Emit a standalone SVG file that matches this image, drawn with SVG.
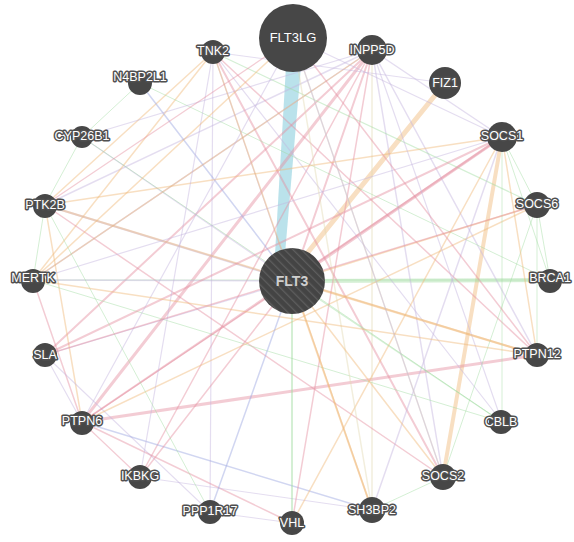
<svg xmlns="http://www.w3.org/2000/svg" width="574" height="542" viewBox="0 0 574 542">
<style>
.e{fill:none;stroke-linecap:round;stroke-opacity:0.45}
.pk{stroke:#e58f9f}
.or{stroke:#f0b777}
.lv{stroke:#c3b3de}
.gr{stroke:#9fdb9f}
.bl{stroke:#9aa5e0}
.bg{stroke:#e3d9b3}
.n{fill:#474747}
.t{font-family:"Liberation Sans",Arial,sans-serif;font-size:12.5px;fill:#ffffff;stroke:#505050;stroke-width:3px;paint-order:stroke;stroke-linejoin:round;text-anchor:middle}
</style>
<defs>
<pattern id="hatch" patternUnits="userSpaceOnUse" width="6" height="6" patternTransform="rotate(-45)">
<rect width="6" height="6" fill="#444"/>
<line x1="0" y1="0" x2="0" y2="6" stroke="#5e5e5e" stroke-width="2.5"/>
</pattern>
</defs>
<rect width="574" height="542" fill="#ffffff"/>
<g id="edges">
<polygon points="286,66 301,66 285,254 275,254" fill="#a9dbe6" fill-opacity="0.8"/>
<line class="e or" x1="445" y1="83" x2="300" y2="262" stroke-width="5"/>
<line class="e or" x1="502" y1="137" x2="443" y2="477" stroke-width="4"/>
<line class="e pk" x1="502" y1="137" x2="292" y2="281" stroke-width="3"/>
<line class="e gr" x1="292" y1="281" x2="550" y2="280" stroke-width="4"/>
<line class="e pk" x1="82" y1="422" x2="537" y2="355" stroke-width="3"/>
<line class="e pk" x1="372" y1="50" x2="82" y2="422" stroke-width="3"/>
<line class="e pk" x1="372" y1="50" x2="292" y2="281" stroke-width="2"/>
<line class="e pk" x1="372" y1="50" x2="45" y2="355" stroke-width="2"/>
<line class="e lv" x1="372" y1="50" x2="33" y2="280" stroke-width="1.5"/>
<line class="e lv" x1="372" y1="50" x2="45" y2="205" stroke-width="1.5"/>
<line class="e lv" x1="372" y1="50" x2="443" y2="477" stroke-width="1.5"/>
<line class="e lv" x1="372" y1="50" x2="502" y2="137" stroke-width="1.5"/>
<line class="e bg" x1="372" y1="50" x2="372" y2="510" stroke-width="1.5"/>
<line class="e pk" x1="372" y1="50" x2="140" y2="477" stroke-width="1.5"/>
<line class="e lv" x1="372" y1="50" x2="537" y2="355" stroke-width="1.5"/>
<line class="e pk" x1="213" y1="52" x2="443" y2="477" stroke-width="2"/>
<line class="e pk" x1="213" y1="52" x2="537" y2="355" stroke-width="1.5"/>
<line class="e lv" x1="213" y1="52" x2="210" y2="512" stroke-width="1.2"/>
<line class="e or" x1="213" y1="52" x2="45" y2="205" stroke-width="1.5"/>
<line class="e or" x1="213" y1="52" x2="33" y2="280" stroke-width="1.5"/>
<line class="e lv" x1="213" y1="52" x2="292" y2="281" stroke-width="1.2"/>
<line class="e lv" x1="213" y1="52" x2="502" y2="422" stroke-width="1.2"/>
<line class="e gr" x1="213" y1="52" x2="537" y2="205" stroke-width="1.2"/>
<line class="e bl" x1="140" y1="83" x2="292" y2="281" stroke-width="1.5"/>
<line class="e gr" x1="140" y1="83" x2="82" y2="137" stroke-width="1"/>
<line class="e gr" x1="140" y1="83" x2="550" y2="280" stroke-width="1"/>
<line class="e gr" x1="82" y1="137" x2="45" y2="205" stroke-width="1"/>
<line class="e lv" x1="82" y1="137" x2="292" y2="281" stroke-width="1.2"/>
<line class="e lv" x1="82" y1="137" x2="372" y2="50" stroke-width="1.2"/>
<line class="e gr" x1="82" y1="137" x2="502" y2="422" stroke-width="1"/>
<line class="e lv" x1="45" y1="205" x2="292" y2="281" stroke-width="2"/>
<line class="e or" x1="45" y1="205" x2="502" y2="137" stroke-width="1.5"/>
<line class="e or" x1="45" y1="205" x2="537" y2="355" stroke-width="2"/>
<line class="e pk" x1="45" y1="205" x2="443" y2="477" stroke-width="1.5"/>
<line class="e gr" x1="45" y1="205" x2="33" y2="280" stroke-width="1"/>
<line class="e or" x1="45" y1="205" x2="82" y2="422" stroke-width="1.5"/>
<line class="e gr" x1="33" y1="280" x2="550" y2="280" stroke-width="1.2"/>
<line class="e lv" x1="33" y1="280" x2="292" y2="281" stroke-width="1.5"/>
<line class="e lv" x1="33" y1="280" x2="502" y2="137" stroke-width="1.2"/>
<line class="e pk" x1="33" y1="280" x2="82" y2="422" stroke-width="1.5"/>
<line class="e gr" x1="33" y1="280" x2="502" y2="422" stroke-width="1"/>
<line class="e or" x1="33" y1="280" x2="372" y2="50" stroke-width="1.5"/>
<line class="e pk" x1="45" y1="355" x2="502" y2="137" stroke-width="2"/>
<line class="e lv" x1="45" y1="355" x2="292" y2="281" stroke-width="1.2"/>
<line class="e lv" x1="45" y1="355" x2="82" y2="422" stroke-width="1.2"/>
<line class="e lv" x1="45" y1="355" x2="210" y2="512" stroke-width="1.2"/>
<line class="e pk" x1="82" y1="422" x2="292" y2="281" stroke-width="1.5"/>
<line class="e pk" x1="82" y1="422" x2="502" y2="137" stroke-width="2"/>
<line class="e bl" x1="82" y1="422" x2="372" y2="510" stroke-width="1.5"/>
<line class="e pk" x1="82" y1="422" x2="292" y2="523" stroke-width="1.5"/>
<line class="e pk" x1="82" y1="422" x2="140" y2="477" stroke-width="1.2"/>
<line class="e or" x1="82" y1="422" x2="537" y2="205" stroke-width="1.5"/>
<line class="e lv" x1="82" y1="422" x2="293" y2="38" stroke-width="1.2"/>
<line class="e pk" x1="140" y1="477" x2="292" y2="281" stroke-width="1.5"/>
<line class="e lv" x1="140" y1="477" x2="213" y2="52" stroke-width="1.2"/>
<line class="e lv" x1="140" y1="477" x2="372" y2="510" stroke-width="1"/>
<line class="e bl" x1="210" y1="512" x2="292" y2="281" stroke-width="1.5"/>
<line class="e lv" x1="210" y1="512" x2="292" y2="523" stroke-width="1"/>
<line class="e gr" x1="210" y1="512" x2="45" y2="205" stroke-width="1"/>
<line class="e gr" x1="292" y1="523" x2="292" y2="281" stroke-width="2"/>
<line class="e or" x1="292" y1="523" x2="502" y2="137" stroke-width="1.5"/>
<line class="e pk" x1="292" y1="523" x2="372" y2="50" stroke-width="1.5"/>
<line class="e or" x1="372" y1="510" x2="292" y2="281" stroke-width="2"/>
<line class="e lv" x1="372" y1="510" x2="502" y2="137" stroke-width="1.5"/>
<line class="e gr" x1="372" y1="510" x2="443" y2="477" stroke-width="1"/>
<line class="e bg" x1="372" y1="510" x2="293" y2="38" stroke-width="1.5"/>
<line class="e or" x1="372" y1="510" x2="213" y2="52" stroke-width="1.5"/>
<line class="e or" x1="443" y1="477" x2="292" y2="281" stroke-width="1.5"/>
<line class="e gr" x1="443" y1="477" x2="537" y2="205" stroke-width="1"/>
<line class="e bg" x1="443" y1="477" x2="293" y2="38" stroke-width="1.5"/>
<line class="e gr" x1="502" y1="422" x2="292" y2="281" stroke-width="1.2"/>
<line class="e gr" x1="502" y1="422" x2="502" y2="137" stroke-width="1"/>
<line class="e lv" x1="502" y1="422" x2="372" y2="50" stroke-width="1.2"/>
<line class="e or" x1="537" y1="355" x2="292" y2="281" stroke-width="2"/>
<line class="e gr" x1="537" y1="355" x2="537" y2="205" stroke-width="1"/>
<line class="e or" x1="537" y1="355" x2="33" y2="280" stroke-width="1.5"/>
<line class="e pk" x1="537" y1="355" x2="293" y2="38" stroke-width="1.5"/>
<line class="e gr" x1="550" y1="280" x2="502" y2="137" stroke-width="1"/>
<line class="e gr" x1="550" y1="280" x2="537" y2="205" stroke-width="1"/>
<line class="e or" x1="537" y1="205" x2="292" y2="281" stroke-width="1.5"/>
<line class="e pk" x1="537" y1="205" x2="45" y2="355" stroke-width="1.5"/>
<line class="e gr" x1="537" y1="205" x2="502" y2="137" stroke-width="1"/>
<line class="e lv" x1="502" y1="137" x2="293" y2="38" stroke-width="1.2"/>
<line class="e or" x1="502" y1="137" x2="537" y2="355" stroke-width="1.5"/>
<line class="e lv" x1="445" y1="83" x2="213" y2="52" stroke-width="1"/>
<line class="e or" x1="293" y1="38" x2="33" y2="280" stroke-width="1.5"/>
<line class="e pk" x1="293" y1="38" x2="45" y2="205" stroke-width="1.2"/>
<line class="e lv" x1="293" y1="38" x2="443" y2="477" stroke-width="1.2"/>
</g>
<g id="FLT3LG"><circle class="n" cx="293" cy="38" r="34"/><text x="293" y="42" style="font-family:'Liberation Sans',Arial,sans-serif;font-size:13px;fill:#fff;text-anchor:middle">FLT3LG</text></g>
<g id="FLT3"><circle cx="292" cy="281" r="33" fill="url(#hatch)"/><text x="292" y="286" style="font-family:'Liberation Sans',Arial,sans-serif;font-size:14px;font-weight:bold;fill:#cfcfcf;text-anchor:middle">FLT3</text></g>
<g id="TNK2"><circle class="n" cx="213" cy="52" r="12"/><text class="t" x="213" y="55">TNK2</text></g>
<g id="INPP5D"><circle class="n" cx="372" cy="50" r="15"/><text class="t" x="372" y="54">INPP5D</text></g>
<g id="N4BP2L1"><circle class="n" cx="140" cy="83" r="12"/><text class="t" x="140" y="81">N4BP2L1</text></g>
<g id="CYP26B1"><circle class="n" cx="82" cy="137" r="11"/><text class="t" x="82" y="140">CYP26B1</text></g>
<g id="PTK2B"><circle class="n" cx="45" cy="206" r="12"/><text class="t" x="45" y="209">PTK2B</text></g>
<g id="FIZ1"><circle class="n" cx="445" cy="83" r="16"/><text class="t" x="445" y="87">FIZ1</text></g>
<g id="SOCS1"><circle class="n" cx="502" cy="137" r="15"/><text class="t" x="502" y="140">SOCS1</text></g>
<g id="SOCS6"><circle class="n" cx="537" cy="205" r="13"/><text class="t" x="537" y="208">SOCS6</text></g>
<g id="MERTK"><circle class="n" cx="33" cy="281" r="12"/><text class="t" x="33" y="282">MERTK</text></g>
<g id="BRCA1"><circle class="n" cx="550" cy="281" r="12"/><text class="t" x="550" y="282">BRCA1</text></g>
<g id="SLA"><circle class="n" cx="45" cy="355" r="12"/><text class="t" x="45" y="359">SLA</text></g>
<g id="PTPN12"><circle class="n" cx="537" cy="355" r="12"/><text class="t" x="537" y="358">PTPN12</text></g>
<g id="PTPN6"><circle class="n" cx="82" cy="423" r="12"/><text class="t" x="82" y="425">PTPN6</text></g>
<g id="CBLB"><circle class="n" cx="501" cy="422" r="12"/><text class="t" x="501" y="426">CBLB</text></g>
<g id="IKBKG"><circle class="n" cx="140" cy="477" r="12"/><text class="t" x="140" y="480">IKBKG</text></g>
<g id="SOCS2"><circle class="n" cx="443" cy="477" r="13"/><text class="t" x="443" y="480">SOCS2</text></g>
<g id="PPP1R17"><circle class="n" cx="210" cy="512" r="12"/><text class="t" x="210" y="515">PPP1R17</text></g>
<g id="SH3BP2"><circle class="n" cx="372" cy="510" r="13"/><text class="t" x="372" y="514">SH3BP2</text></g>
<g id="VHL"><circle class="n" cx="292" cy="523" r="12"/><text class="t" x="292" y="527">VHL</text></g>
</svg>
